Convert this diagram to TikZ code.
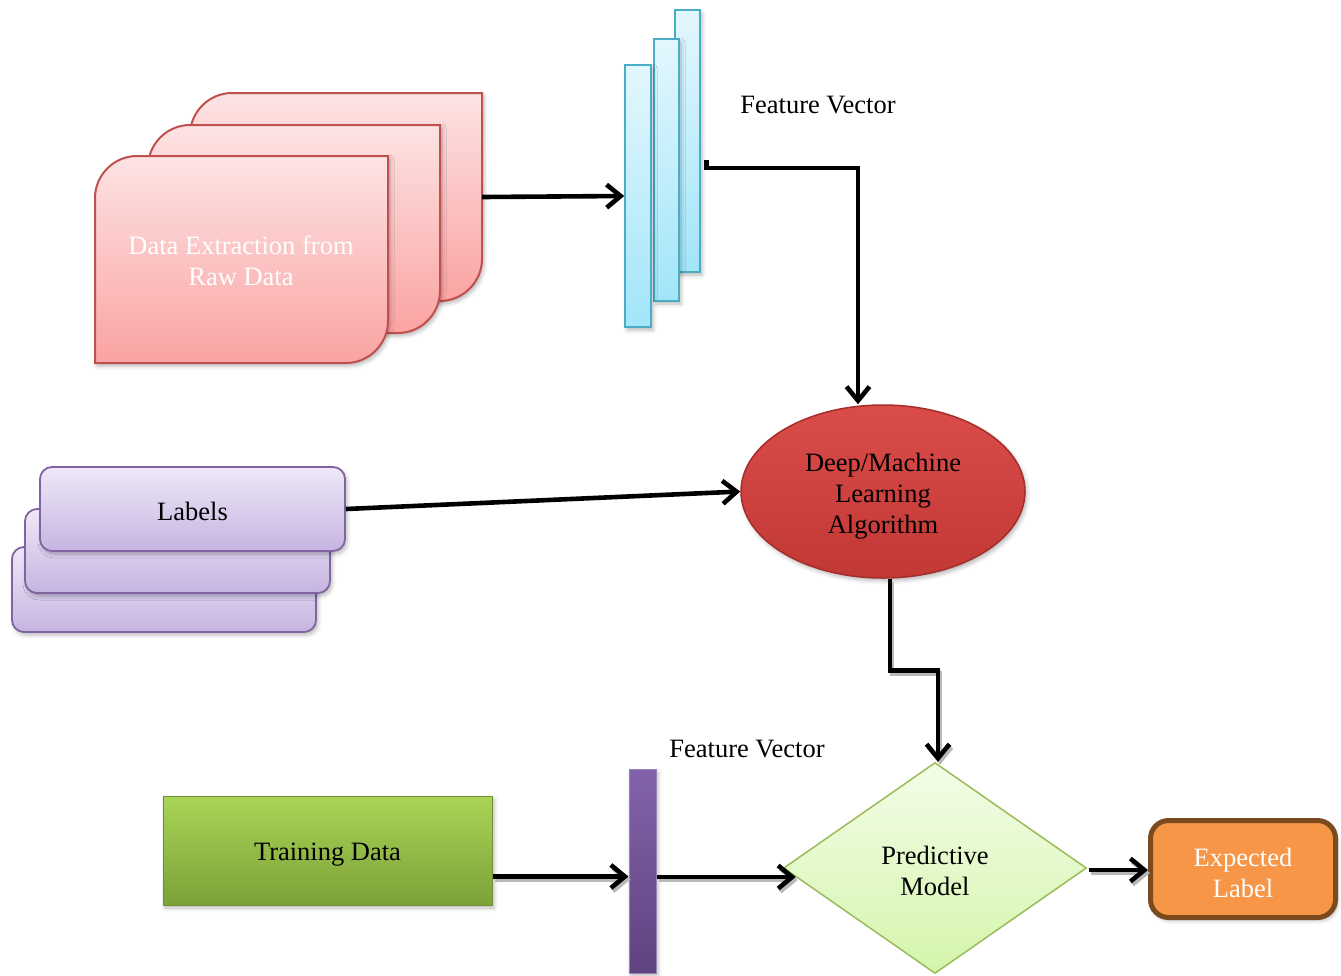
\documentclass[tikz,border=0pt]{standalone}
\usepackage{fontspec}
\setmainfont{Liberation Serif}
\usetikzlibrary{arrows.meta,shapes.geometric,shadows.blur,calc}

\definecolor{pinkTop}{HTML}{FDE3E3}
\definecolor{pinkBot}{HTML}{FBA3A3}
\definecolor{pinkEdge}{HTML}{C0504D}
\definecolor{cyanTop}{HTML}{E3F7FD}
\definecolor{cyanBot}{HTML}{A2E5F9}
\definecolor{cyanEdge}{HTML}{4BACC6}
\definecolor{lavTop}{HTML}{EEE8F7}
\definecolor{lavBot}{HTML}{C6B4E1}
\definecolor{lavEdge}{HTML}{8064A2}
\definecolor{redTop}{HTML}{D94C49}
\definecolor{redBot}{HTML}{C23835}
\definecolor{redEdge}{HTML}{A52D2B}
\definecolor{limeTop}{HTML}{F3FDE8}
\definecolor{limeBot}{HTML}{D4F5AC}
\definecolor{limeEdge}{HTML}{9BBB59}
\definecolor{grassTop}{HTML}{AAD456}
\definecolor{grassBot}{HTML}{7CA139}
\definecolor{grassEdge}{HTML}{6F9132}
\definecolor{plumTop}{HTML}{8263AA}
\definecolor{plumBot}{HTML}{5E437F}
\definecolor{orangeFill}{HTML}{F79646}
\definecolor{orangeEdge}{HTML}{7B4A1E}

\tikzset{
  txt/.style={font=\fontsize{26.5}{31}\selectfont, align=center, inner sep=0pt},
  soft/.style={blur shadow={shadow xshift=2pt, shadow yshift=-3pt, shadow opacity=28, shadow blur radius=4pt}},
  barb/.style={-{Straight Barb[length=14pt,width=23pt]}},
  wire/.style={line width=4.6pt, barb},
  wireghost/.style={line width=4.6pt, draw=black!28, barb,
    transform canvas={shift={(2pt,-3pt)}}},
  pinkface/.style={draw=pinkEdge, line width=2pt, top color=pinkTop, bottom color=pinkBot, soft},
  cyanbar/.style={draw=cyanEdge, line width=1.5pt, top color=cyanTop, bottom color=cyanBot,
    inner sep=0pt, minimum width=25pt, minimum height=262pt, soft},
  lavcard/.style={draw=lavEdge, line width=1.8pt, top color=lavTop, bottom color=lavBot,
    rounded corners=12pt, inner sep=0pt, minimum width=305pt, minimum height=84pt, soft},
}

% card with rounded top-left and bottom-right corners: x1 y1 x2 y2
\newcommand\pinkcard[4]{%
  \path[pinkface] (#1,#4) -- (#1,{#2+42})
    .. controls (#1,{#2+19}) and ({#1+19},#2) .. ({#1+42},#2)
    -- (#3,#2) -- (#3,{#4-42})
    .. controls (#3,{#4-19}) and ({#3-19},#4) .. ({#3-42},#4) -- cycle;
}

\begin{document}
\begin{tikzpicture}[x=1pt, y=-1pt]
\useasboundingbox (0,0) rectangle (1341,975);

% stacked raw-data cards
\pinkcard{190}{93}{482}{301}
\pinkcard{148}{125}{440}{333}
\pinkcard{95}{156}{388}{363}
\node[inner sep=0pt, minimum width=292pt, minimum height=208pt] (rawback) at (336,197) {};
\node[txt, text=white] (raw) at (241,261) {Data Extraction from\\Raw Data};

% feature vector bars
\node[cyanbar] (fv3) at (687.5,141) {};
\node[cyanbar] (fv2) at (666.5,170) {};
\node[cyanbar, minimum width=26pt] (fv1) at (638,196) {};
\node[txt] (fvlab1) at (818,105) {Feature Vector};

% stacked label cards
\node[lavcard, minimum width=304pt, minimum height=85pt] (lab3) at (164,589.5) {};
\node[lavcard] (lab2) at (177.5,551) {};
\node[lavcard] (lab) at (192.5,509) {};
\node[txt] (labtxt) at ([yshift=-2pt]lab.center) {Labels};

% learning algorithm
\node[ellipse, draw=redEdge, line width=1.5pt, top color=redTop, bottom color=redBot,
  minimum width=284pt, minimum height=173pt, inner sep=0pt, soft] (ml) at (883,491.5) {};
\node[txt] (mltxt) at ([yshift=-5pt]ml.center) {Deep/Machine\\Learning\\Algorithm};

% training data and its feature vector
\node[draw=grassEdge, line width=1pt, top color=grassTop, bottom color=grassBot,
  minimum width=329pt, minimum height=109pt, inner sep=0pt, soft] (train) at (327.5,850.5) {};
\node[txt] (traintxt) at ([yshift=-4pt]train.center) {Training Data};
\node[draw=plumTop!80!white, line width=1pt, top color=plumTop, bottom color=plumBot,
  minimum width=27pt, minimum height=204pt, inner sep=0pt, soft] (fvb) at (642.5,871) {};
\node[txt] (fvlab2) at (747,749) {Feature Vector};

% predictive model and output
\node[diamond, draw=limeEdge, line width=1.5pt, top color=limeTop, bottom color=limeBot,
  minimum width=303pt, minimum height=211pt, inner sep=0pt] (pm) at (935,868) {};
\node[txt] (pmtxt) at ([yshift=-3pt]pm.center) {Predictive\\Model};
\node[draw=orangeEdge, line width=5pt, fill=orangeFill, rounded corners=18pt,
  minimum width=185pt, minimum height=97pt, inner sep=0pt, soft] (exp) at (1243,869) {};
\node[txt, text=white] (exptxt) at ([yshift=-3.5pt]exp.center) {Expected\\Label};

% connectors
\coordinate (fvout) at ($(fv3.east)+(6,19)$);
\draw[wire] (rawback.east) -- (fv1.west);
\draw[wire] (fvout) -- ++(0,8) -| ([xshift=-25pt]ml.north);
\draw[wire] (lab.east) -- (ml.west);

\draw[wireghost] ([xshift=7pt]ml.south) -- ++(0,92) -| ([xshift=3pt]pm.north);
\draw[wire] ([xshift=7pt]ml.south) -- ++(0,92) -| ([xshift=3pt]pm.north);

\draw[wireghost] ([yshift=-26pt]train.east) -- ([yshift=-26pt]train.east -| fvb.west);
\draw[wire] ([yshift=-26pt]train.east) -- ([yshift=-26pt]train.east -| fvb.west);

\draw[wireghost] ([yshift=-6pt]fvb.east) -- ($(pm.west)+(13,9)$);
\draw[wire] ([yshift=-6pt]fvb.east) -- ($(pm.west)+(13,9)$);

\draw[wireghost] ([xshift=2pt,yshift=-2pt]pm.east) -- ([yshift=-1pt]exp.west);
\draw[wire] ([xshift=2pt,yshift=-2pt]pm.east) -- ([yshift=-1pt]exp.west);
\end{tikzpicture}
\end{document}
